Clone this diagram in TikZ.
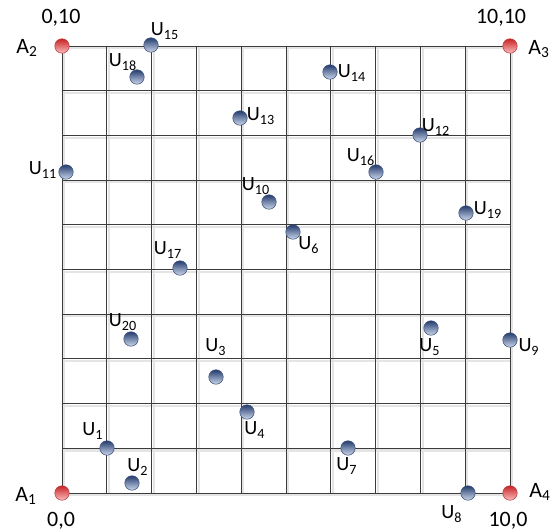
\documentclass[tikz,border=0pt]{standalone}
\usepackage{fontspec}
\setmainfont{Carlito}
\definecolor{gridc}{RGB}{60,60,60}
\definecolor{gridsh}{RGB}{228,228,228}
\definecolor{btop}{RGB}{35,60,110}
\definecolor{bbot}{RGB}{205,215,235}
\definecolor{bedge}{RGB}{60,80,120}
\definecolor{rtop}{RGB}{200,35,35}
\definecolor{rbot}{RGB}{250,190,190}
\definecolor{redge}{RGB}{190,60,60}
\begin{document}
\begin{tikzpicture}[x=0.02cm,y=-0.02cm,
  gline/.style={draw=gridc,line width=0.5pt},
  gshadow/.style={draw=gridsh,line width=1.2pt},
  udot/.style={circle,inner sep=0pt,minimum size=0.29cm,draw=bedge,line width=0.3pt,top color=btop,bottom color=bbot},
  adot/.style={circle,inner sep=0pt,minimum size=0.29cm,draw=redge,line width=0.3pt,top color=rtop,bottom color=rbot},
  ulab/.style={inner sep=0pt,font=\fontsize{11.5}{13}\selectfont},
  alab/.style={inner sep=0pt,font=\fontsize{12.5}{14}\selectfont},
  clab/.style={inner sep=0pt,font=\fontsize{12.5}{14}\selectfont}]
\useasboundingbox (0,0) rectangle (558,531);
% grid shadows
\foreach \i in {0,...,10}{
  \draw[gshadow] ({62+44.8*\i+2.2},46) -- ({62+44.8*\i+2.2},493);
  \draw[gshadow] (62,{46+44.7*\i+2.2}) -- (510,{46+44.7*\i+2.2});
}
% grid lines
\foreach \i in {0,...,10}{
  \draw[gline] ({62+44.8*\i},46) -- ({62+44.8*\i},493);
  \draw[gline] (62,{46+44.7*\i}) -- (510,{46+44.7*\i});
}
% anchors
\node[adot] (A1) at (62,493) {};
\node[adot] (A2) at (62,46) {};
\node[adot] (A3) at (510,46) {};
\node[adot] (A4) at (510,493) {};
\node[alab] (lA1) at (26,496) {A\textsubscript{1}};
\node[alab] (lA2) at (27,48) {A\textsubscript{2}};
\node[alab] (lA3) at (539,49) {A\textsubscript{3}};
\node[alab] (lA4) at (540,492) {A\textsubscript{4}};
\node[clab] (c00) at (61,521) {0,0};
\node[clab] (c010) at (61,18) {0,10};
\node[clab] (c1010) at (501,18) {10,10};
\node[clab] (c100) at (508,521) {10,0};
% users
\node[udot] (U1) at (107,448) {};
\node[udot] (U2) at (132,483) {};
\node[udot] (U3) at (216,377) {};
\node[udot] (U4) at (247,412) {};
\node[udot] (U5) at (431,328) {};
\node[udot] (U6) at (293,232) {};
\node[udot] (U7) at (348,448) {};
\node[udot] (U8) at (468,493) {};
\node[udot] (U9) at (510,340) {};
\node[udot] (U10) at (269,202) {};
\node[udot] (U11) at (66,172) {};
\node[udot] (U12) at (420,135) {};
\node[udot] (U13) at (240,118) {};
\node[udot] (U14) at (330,72) {};
\node[udot] (U15) at (151,45) {};
\node[udot] (U16) at (376,172) {};
\node[udot] (U17) at (180,268) {};
\node[udot] (U18) at (137,77) {};
\node[udot] (U19) at (466,213) {};
\node[udot] (U20) at (131,339) {};
% user labels
\node[ulab] (lU1) at (93,431) {U\textsubscript{1}};
\node[ulab] (lU2) at (138,467) {U\textsubscript{2}};
\node[ulab] (lU3) at (216,347) {U\textsubscript{3}};
\node[ulab] (lU4) at (255,430) {U\textsubscript{4}};
\node[ulab] (lU5) at (430,347) {U\textsubscript{5}};
\node[ulab] (lU6) at (309,245) {U\textsubscript{6}};
\node[ulab] (lU7) at (347,466) {U\textsubscript{7}};
\node[ulab] (lU8) at (452,514) {U\textsubscript{8}};
\node[ulab] (lU9) at (529,347) {U\textsubscript{9}};
\node[ulab] (lU10) at (256,186) {U\textsubscript{10}};
\node[ulab] (lU11) at (43,170) {U\textsubscript{11}};
\node[ulab] (lU12) at (436,127) {U\textsubscript{12}};
\node[ulab] (lU13) at (261,116) {U\textsubscript{13}};
\node[ulab] (lU14) at (352,73) {U\textsubscript{14}};
\node[ulab] (lU15) at (165,31) {U\textsubscript{15}};
\node[ulab] (lU16) at (361,157) {U\textsubscript{16}};
\node[ulab] (lU17) at (168,250) {U\textsubscript{17}};
\node[ulab] (lU18) at (123,62) {U\textsubscript{18}};
\node[ulab] (lU19) at (488,210) {U\textsubscript{19}};
\node[ulab] (lU20) at (123,322) {U\textsubscript{20}};
\end{tikzpicture}
\end{document}
